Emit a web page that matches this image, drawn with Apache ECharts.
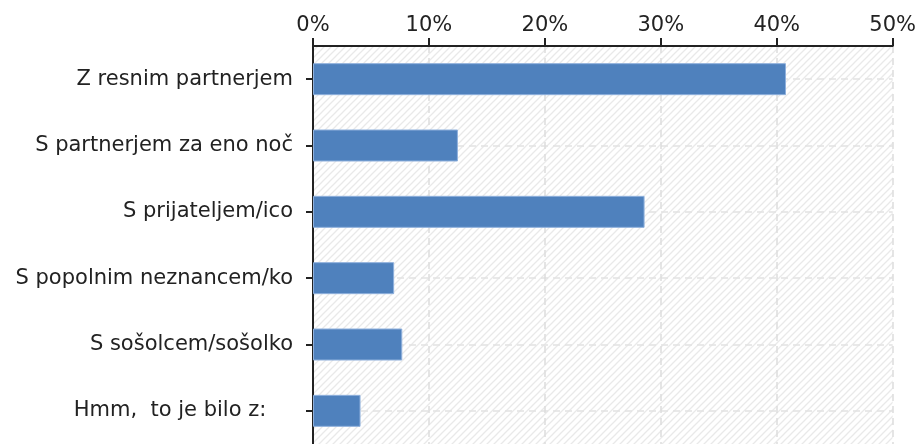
<!DOCTYPE html>
<html lang="sl">
<head>
    <meta charset="UTF-8">
    <title>echarts demo</title>
    <script type="text/javascript" src="https://cdn.jsdelivr.net/npm/echarts@6/dist/echarts.min.js"></script>
    <style>
        html, body { margin: 0; padding: 0; background: #fff; }
    </style>
</head>
<body>
<div id="chart" style="width: 919px;height:444px;"></div>
</body>
<script type="text/javascript">

    // kategorije in deleži (v %)
    var categories = [
        'Z resnim partnerjem',
        'S partnerjem za eno noč',
        'S prijateljem/ico',
        'S popolnim neznancem/ko',
        'S sošolcem/sošolko',
        'Hmm,  to je bilo z:    '
    ];
    var values = [40.8, 12.5, 28.6, 7.0, 7.7, 4.1];
    var xTicks = [0, 10, 20, 30, 40, 50];

    // šrafirano ozadje
    function hatch() {
        var c = document.createElement('canvas');
        c.width = 7;
        c.height = 7;
        var ctx = c.getContext('2d');
        ctx.fillStyle = '#ffffff';
        ctx.fillRect(0, 0, 7, 7);
        ctx.strokeStyle = '#e9e9e9';
        ctx.lineWidth = 1.3;
        ctx.beginPath();
        ctx.moveTo(-1, 8); ctx.lineTo(8, -1);
        ctx.moveTo(-1, 1); ctx.lineTo(1, -1);
        ctx.moveTo(6, 8); ctx.lineTo(8, 6);
        ctx.stroke();
        return c;
    }

    var font = 'DejaVu Sans';
    var option = {
        animation: false,
        grid: {
            left: 313,
            right: 25,
            top: 46,
            bottom: -2,
            show: true,
            borderWidth: 0,
            backgroundColor: {image: hatch(), repeat: 'repeat'}
        },
        xAxis: {
            type: 'value',
            position: 'top',
            min: xTicks[0],
            max: xTicks[xTicks.length - 1],
            interval: 10,
            axisLine: {show: true, lineStyle: {color: '#222', width: 2}},
            axisTick: {show: true, length: 8, lineStyle: {color: '#222', width: 2}},
            axisLabel: {
                margin: 10,
                color: '#222',
                fontFamily: font,
                fontSize: 21,
                formatter: '{value}%'
            },
            splitLine: {
                show: true,
                lineStyle: {color: '#dddddd', type: [7, 5], width: 1.5}
            }
        },
        yAxis: {
            type: 'category',
            inverse: true,
            data: categories,
            axisLine: {show: true, lineStyle: {color: '#222', width: 2}},
            axisTick: {show: true, alignWithLabel: true, length: 7, lineStyle: {color: '#222', width: 2}},
            axisLabel: {
                margin: 20,
                color: '#222',
                fontFamily: font,
                fontSize: 21
            },
            splitLine: {
                show: true,
                alignWithLabel: true,
                lineStyle: {color: '#e2e2e2', type: [7, 5], width: 1.5}
            }
        },
        series: [
            {
                type: 'bar',
                data: values,
                barWidth: 32,
                itemStyle: {
                    color: '#4f81bd',
                    borderColor: '#8fb0dc',
                    borderWidth: 1
                }
            }
        ]
    };
    echarts.init(document.getElementById('chart')).setOption(option);
</script>
</html>
